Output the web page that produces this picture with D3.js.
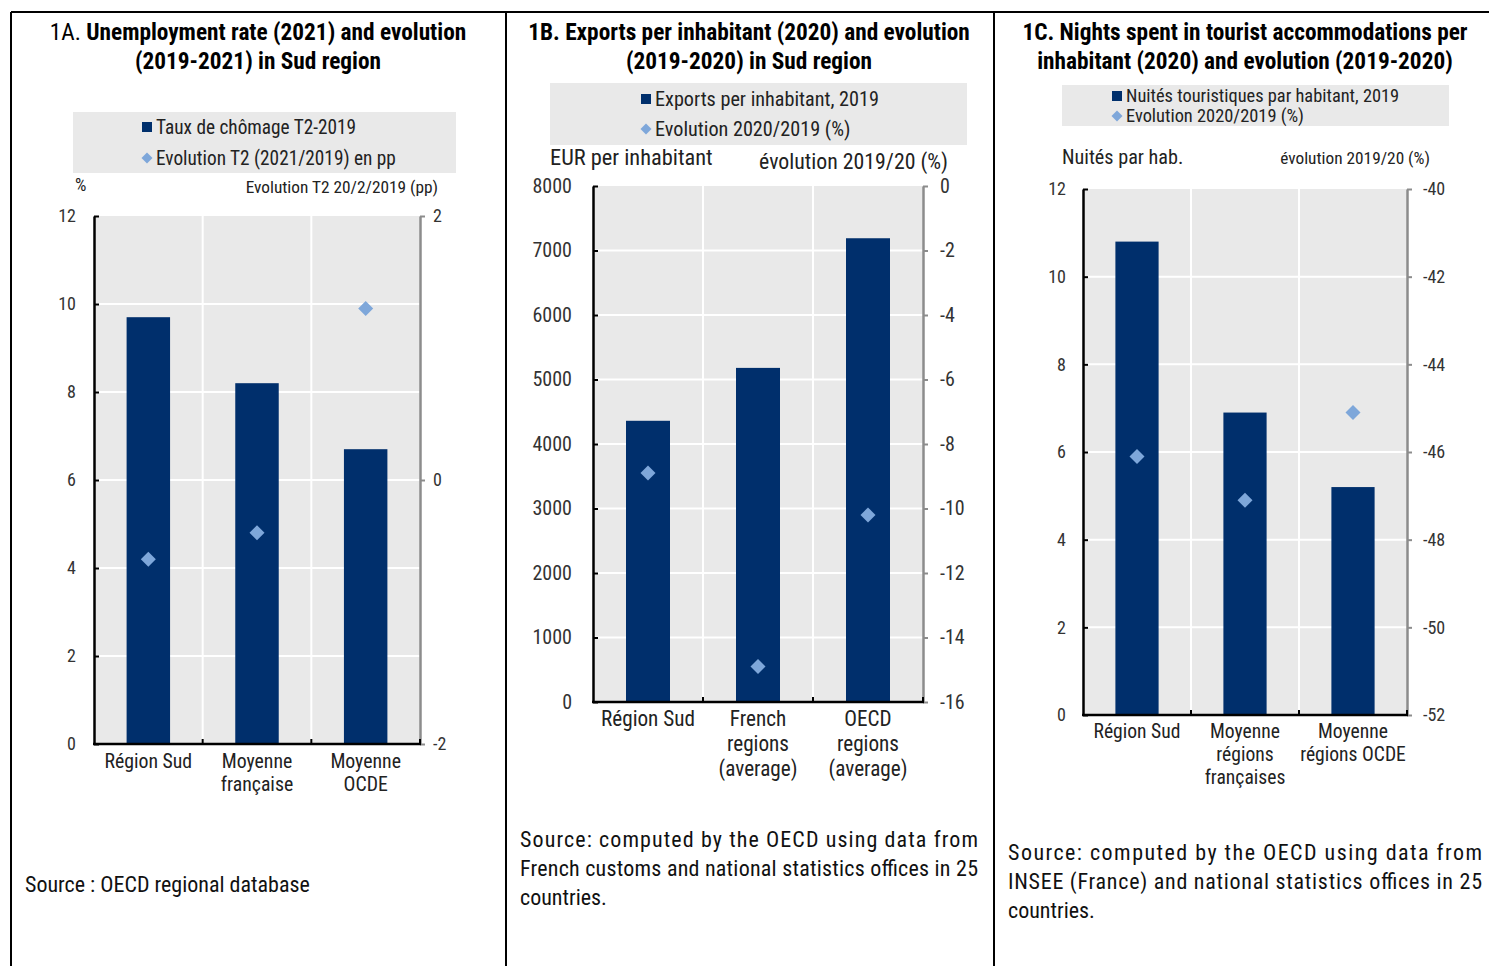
<!DOCTYPE html>
<html>
<head>
<meta charset="utf-8">
<script src="https://cdn.jsdelivr.net/npm/d3@7"></script>
<style>
  body { margin: 0; background: #fff; }
  svg { display: block; }
</style>
</head>
<body>
<div id="chart"></div>
<script>
// Panel 1A - unemployment
const cats1 = [["Région Sud"], ["Moyenne", "française"], ["Moyenne", "OCDE"]];
const unemp2021 = [9.7, 8.2, 6.7];
const unempEvol = [-0.6, -0.4, 1.3];
const ticksLeft1 = [0, 2, 4, 6, 8, 10, 12];
const ticksRight1 = [-2, 0, 2];

// Panel 1B - exports
const cats2 = [["Région Sud"], ["French", "regions", "(average)"], ["OECD", "regions", "(average)"]];
const exportsPerHab = [4360, 5180, 7190];
const exportsEvol = [-8.9, -14.9, -10.2];
const ticksLeft2 = [0, 1000, 2000, 3000, 4000, 5000, 6000, 7000, 8000];
const ticksRight2 = [-16, -14, -12, -10, -8, -6, -4, -2, 0];

// Panel 1C - tourist nights
const cats3 = [["Région Sud"], ["Moyenne", "régions", "françaises"], ["Moyenne", "régions OCDE"]];
const nightsPerHab = [10.8, 6.9, 5.2];
const nightsEvol = [-46.1, -47.1, -45.1];
const ticksLeft3 = [0, 2, 4, 6, 8, 10, 12];
const ticksRight3 = [-52, -50, -48, -46, -44, -42, -40];

const FONT = "'Liberation Sans Narrow','Arial Narrow','Roboto Condensed',sans-serif";
const BAR = '#002f6c';
const DOT = '#7ea7da';
const BG = '#e9e9e9';

const svg = d3.select('#chart')
    .append('svg')
    .attr('width', 1489)
    .attr('height', 966)
    .style('font-family', FONT);

// Table frame
const frame = svg.append('g').attr('stroke', '#000').attr('stroke-width', 2);
frame.append('line').attr('x1', 11).attr('x2', 1489).attr('y1', 12).attr('y2', 12);
[11, 506, 994].forEach(x => {
    frame.append('line').attr('x1', x).attr('x2', x).attr('y1', 12).attr('y2', 966);
});

// Diamond path centred on 0,0
const diamond = r => `M0,${-r}L${r},0L0,${r}L${-r},0Z`;
// plain hyphen for negatives, like the original
const fmt = d => String(d);

function drawPanel(p) {
    const g = svg.append('g');

    // Title
    p.title.forEach((line, i) => {
        const t = g.append('text')
            .attr('x', p.cx)
            .attr('y', 40 + i * 29)
            .attr('text-anchor', 'middle')
            .style('font-size', '23.3px')
            .attr('fill', '#000');
        line.forEach(part => {
            t.append('tspan')
                .style('font-weight', part.bold ? 'bold' : 'normal')
                .text(part.text);
        });
    });

    // Legend box
    const lg = p.legend;
    g.append('rect')
        .attr('x', lg.x).attr('y', lg.y)
        .attr('width', lg.w).attr('height', lg.h)
        .attr('fill', BG);
    lg.items.forEach((label, i) => {
        const y = lg.rows[i];
        if (i === 0) {
            g.append('rect')
                .attr('x', lg.mx - 5).attr('y', y - 5)
                .attr('width', 10).attr('height', 10)
                .attr('fill', BAR);
        } else {
            g.append('path')
                .attr('d', diamond(5.5))
                .attr('transform', `translate(${lg.mx},${y})`)
                .attr('fill', DOT);
        }
        g.append('text')
            .attr('x', lg.mx + 9)
            .attr('y', y)
            .attr('dy', '0.35em')
            .style('font-size', lg.fs + 'px')
            .attr('fill', '#222')
            .text(label);
    });

    // Axis titles
    p.axisTitles.forEach(a => {
        g.append('text')
            .attr('x', a.x).attr('y', a.y)
            .attr('text-anchor', a.anchor)
            .attr('dy', '0.35em')
            .style('font-size', a.fs + 'px')
            .attr('fill', '#222')
            .text(a.text);
    });

    // Scales
    const x = d3.scaleBand()
        .domain(d3.range(p.cats.length))
        .range([p.left, p.right]);
    const yL = d3.scaleLinear()
        .domain(d3.extent(p.ticksLeft))
        .range([p.bottom, p.top]);
    const yR = d3.scaleLinear()
        .domain(d3.extent(p.ticksRight))
        .range([p.bottom, p.top]);

    // Plot background and grid
    g.append('rect')
        .attr('x', p.left).attr('y', p.top)
        .attr('width', p.right - p.left)
        .attr('height', p.bottom - p.top)
        .attr('fill', BG);
    g.append('g')
        .selectAll('line')
        .data(p.ticksLeft.slice(1, -1))
        .join('line')
        .attr('x1', p.left).attr('x2', p.right)
        .attr('y1', d => yL(d)).attr('y2', d => yL(d))
        .attr('stroke', '#fff').attr('stroke-width', 2);
    g.append('g')
        .selectAll('line')
        .data(d3.range(1, p.cats.length))
        .join('line')
        .attr('x1', d => x(d)).attr('x2', d => x(d))
        .attr('y1', p.top).attr('y2', p.bottom)
        .attr('stroke', '#fff').attr('stroke-width', 2);

    // Bars
    const bw = x.bandwidth() * 0.4;
    g.append('g')
        .selectAll('rect')
        .data(p.bars)
        .join('rect')
        .attr('x', (d, i) => x(i) + (x.bandwidth() - bw) / 2)
        .attr('y', d => yL(d))
        .attr('width', bw)
        .attr('height', d => p.bottom - yL(d))
        .attr('fill', BAR);

    // Diamonds
    g.append('g')
        .selectAll('path')
        .data(p.dots)
        .join('path')
        .attr('d', diamond(7.5))
        .attr('transform', (d, i) => `translate(${x(i) + x.bandwidth() / 2},${yR(d)})`)
        .attr('fill', DOT);

    // Left axis
    const left = g.append('g')
        .attr('transform', `translate(${p.left},0)`)
        .call(d3.axisLeft(yL).tickValues(p.ticksLeft).tickFormat(fmt)
            .tickSize(-5).tickPadding(p.padL).tickSizeOuter(0));
    left.select('.domain').attr('stroke', '#000').attr('stroke-width', 2.5);
    left.selectAll('.tick line').attr('stroke', '#000').attr('stroke-width', 2);
    left.selectAll('text').style('font-size', p.tickFs + 'px').style('font-family', FONT).attr('fill', '#333');

    // Right axis
    const right = g.append('g')
        .attr('transform', `translate(${p.right},0)`)
        .call(d3.axisRight(yR).tickValues(p.ticksRight).tickFormat(fmt)
            .tickSize(5).tickPadding(p.padR).tickSizeOuter(0));
    right.select('.domain').attr('stroke', '#8c8c8c').attr('stroke-width', 2.5);
    right.selectAll('.tick line').attr('stroke', '#8c8c8c').attr('stroke-width', 2);
    right.selectAll('text').style('font-size', p.tickFs + 'px').style('font-family', FONT).attr('fill', '#333');

    // Bottom axis with category boundary ticks
    g.append('line')
        .attr('x1', p.left - 1).attr('x2', p.right + 1)
        .attr('y1', p.bottom).attr('y2', p.bottom)
        .attr('stroke', '#000').attr('stroke-width', 2.5);
    g.append('g')
        .selectAll('line')
        .data(d3.range(1, p.cats.length + 1))
        .join('line')
        .attr('x1', d => d === p.cats.length ? p.right : x(d))
        .attr('x2', d => d === p.cats.length ? p.right : x(d))
        .attr('y1', p.bottom).attr('y2', p.bottom - 5)
        .attr('stroke', '#000').attr('stroke-width', 2);

    // Category labels
    p.cats.forEach((lines, i) => {
        const t = g.append('text')
            .attr('text-anchor', 'middle')
            .style('font-size', p.catFs + 'px')
            .attr('fill', '#222');
        lines.forEach((line, j) => {
            t.append('tspan')
                .attr('x', x(i) + x.bandwidth() / 2)
                .attr('y', p.catY + j * p.catLh)
                .text(line);
        });
    });

    // Source note (justified except the last line)
    p.source.lines.forEach((line, i) => {
        const t = g.append('text')
            .attr('x', p.source.x)
            .attr('y', p.source.y + i * 29)
            .style('font-size', '22px')
            .attr('fill', '#111')
            .text(line);
        if (p.source.width && i < p.source.lines.length - 1) {
            t.attr('textLength', p.source.width).attr('lengthAdjust', 'spacing');
        }
    });
}

drawPanel({
    cx: 258,
    title: [
        [{ text: '1A. ', bold: false }, { text: 'Unemployment rate (2021) and evolution', bold: true }],
        [{ text: '(2019-2021) in Sud region', bold: true }]
    ],
    legend: { x: 73, y: 112, w: 383, h: 61, mx: 147, rows: [127, 158], fs: 19.3,
        items: ['Taux de chômage T2-2019', 'Evolution T2 (2021/2019) en pp'] },
    axisTitles: [
        { text: '%', x: 75, y: 185, anchor: 'start', fs: 18 },
        { text: 'Evolution T2 20/2/2019 (pp)', x: 438, y: 187, anchor: 'end', fs: 17.3 }
    ],
    cats: cats1, bars: unemp2021, dots: unempEvol,
    ticksLeft: ticksLeft1, ticksRight: ticksRight1,
    left: 94, right: 420, top: 216, bottom: 744,
    padL: 18, padR: 8, tickFs: 18,
    catY: 768, catLh: 23, catFs: 19.8,
    source: { x: 25, y: 892, lines: ['Source : OECD regional database'] }
});

drawPanel({
    cx: 749,
    title: [
        [{ text: '1B. Exports per inhabitant (2020) and evolution', bold: true }],
        [{ text: '(2019-2020) in Sud region', bold: true }]
    ],
    legend: { x: 550, y: 83, w: 417, h: 62, mx: 646, rows: [99, 129], fs: 20.2,
        items: ['Exports per inhabitant, 2019', 'Evolution 2020/2019 (%)'] },
    axisTitles: [
        { text: 'EUR per inhabitant', x: 550, y: 157, anchor: 'start', fs: 22.4 },
        { text: 'évolution 2019/20 (%)', x: 948, y: 161, anchor: 'end', fs: 21.8 }
    ],
    cats: cats2, bars: exportsPerHab, dots: exportsEvol,
    ticksLeft: ticksLeft2, ticksRight: ticksRight2,
    left: 593, right: 923, top: 186, bottom: 702,
    padL: 21, padR: 12, tickFs: 20,
    catY: 726, catLh: 25, catFs: 21.2,
    source: { x: 520, y: 847, width: 458,
        lines: ['Source: computed by the OECD using data from',
                'French customs and national statistics offices in 25',
                'countries.'] }
});

drawPanel({
    cx: 1245,
    title: [
        [{ text: '1C. Nights spent in tourist accommodations per', bold: true }],
        [{ text: 'inhabitant (2020) and evolution (2019-2020)', bold: true }]
    ],
    legend: { x: 1062, y: 85, w: 387, h: 41, mx: 1117, rows: [96, 116], fs: 18.4,
        items: ['Nuités touristiques par habitant, 2019', 'Evolution 2020/2019 (%)'] },
    axisTitles: [
        { text: 'Nuités par hab.', x: 1062, y: 157, anchor: 'start', fs: 20.2 },
        { text: 'évolution 2019/20 (%)', x: 1430, y: 158, anchor: 'end', fs: 17.3 }
    ],
    cats: cats3, bars: nightsPerHab, dots: nightsEvol,
    ticksLeft: ticksLeft3, ticksRight: ticksRight3,
    left: 1083, right: 1407, top: 189, bottom: 715,
    padL: 17, padR: 11, tickFs: 18,
    catY: 738, catLh: 23, catFs: 19.6,
    source: { x: 1008, y: 860, width: 474,
        lines: ['Source: computed by the OECD using data from',
                'INSEE (France) and national statistics offices in 25',
                'countries.'] }
});
</script>
</body>
</html>
